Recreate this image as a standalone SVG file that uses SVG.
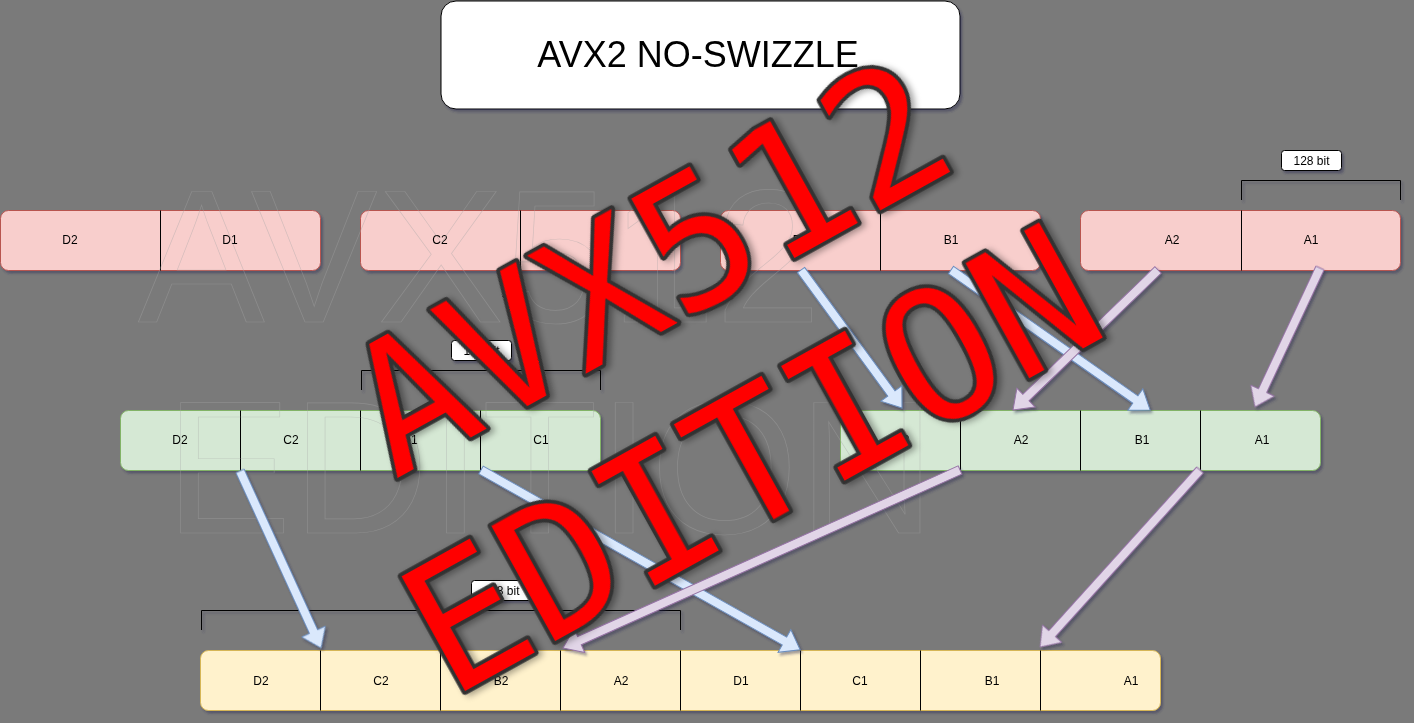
<svg xmlns="http://www.w3.org/2000/svg" width="1414" height="723" viewBox="0 0 1414 723">
<defs>
<style>
.lbl{font-family:"Liberation Sans",Arial,sans-serif;font-size:12px;fill:#000;text-anchor:middle}
.red{fill:#f8cecc;stroke:#b85450;stroke-width:1}
.grn{fill:#d5e8d4;stroke:#82b366;stroke-width:1}
.yel{fill:#fff2cc;stroke:#d6b656;stroke-width:1}
.div{stroke:#000;stroke-width:1}
.brk{fill:none;stroke:#000;stroke-width:1}
.tag{fill:#fff;stroke:#000;stroke-width:1}
.ab{fill:#dae8fc;stroke:#6c8ebf;stroke-width:1}
.al{fill:#e1d5e7;stroke:#9673a6;stroke-width:1}
.wm{font-family:"Liberation Sans",Arial,sans-serif;font-size:190px;fill:none;stroke:#a6a6a6;stroke-width:0.7;opacity:0.42}
.big{font-family:"DejaVu Sans Mono",monospace;font-size:180px;fill:#ff0000;stroke:#333;stroke-width:7.5;stroke-linejoin:round;paint-order:stroke;text-anchor:middle}
</style>
<filter id="sh" x="-5%" y="-5%" width="115%" height="130%">
<feDropShadow dx="2" dy="2.5" stdDeviation="1.2" flood-color="#2a2a55" flood-opacity="0.45"/>
</filter>
<filter id="tsh" x="-10%" y="-10%" width="125%" height="125%">
<feDropShadow dx="3" dy="3" stdDeviation="3" flood-color="#000" flood-opacity="0.35"/>
</filter>
</defs>
<rect x="0" y="0" width="1414" height="723" fill="#7a7a7a"/>

<g id="title" filter="url(#sh)">
<rect x="441" y="1" width="519" height="108" rx="15" fill="#fff" stroke="#000" stroke-width="1"/>
<text x="698" y="67" font-family="Liberation Sans,Arial,sans-serif" font-size="36" text-anchor="middle" fill="#000">AVX2 NO-SWIZZLE</text>
</g>

<g id="top-D" filter="url(#sh)">
<rect class="red" x="0.5" y="210.5" width="320" height="60" rx="8"/>
<line class="div" x1="160.5" y1="210.5" x2="160.5" y2="270.5"/>
<text class="lbl" x="70" y="244">D2</text>
<text class="lbl" x="230" y="244">D1</text>
</g>
<g id="top-C" filter="url(#sh)">
<rect class="red" x="360.5" y="210.5" width="320" height="60" rx="8"/>
<line class="div" x1="520.5" y1="210.5" x2="520.5" y2="270.5"/>
<text class="lbl" x="440" y="244">C2</text>
<text class="lbl" x="600" y="244">C1</text>
</g>
<g id="top-B" filter="url(#sh)">
<rect class="red" x="720.5" y="210.5" width="320" height="60" rx="8"/>
<line class="div" x1="880.5" y1="210.5" x2="880.5" y2="270.5"/>
<text class="lbl" x="800" y="244">B2</text>
<text class="lbl" x="951" y="244">B1</text>
</g>
<g id="top-A" filter="url(#sh)">
<rect class="red" x="1080.5" y="210.5" width="320" height="60" rx="8"/>
<line class="div" x1="1241.5" y1="210.5" x2="1241.5" y2="270.5"/>
<text class="lbl" x="1172" y="244">A2</text>
<text class="lbl" x="1311" y="244">A1</text>
</g>

<g id="bracket-top" filter="url(#sh)">
<polyline class="brk" points="1241.5,200 1241.5,180.5 1400.5,180.5 1400.5,200"/>
<rect class="tag" x="1281.5" y="150.5" width="60" height="20" rx="3"/>
<text class="lbl" x="1311.5" y="165">128 bit</text>
</g>

<g id="mid-DC" filter="url(#sh)">
<rect class="grn" x="120.5" y="410.5" width="480" height="60" rx="8"/>
<line class="div" x1="240.5" y1="410.5" x2="240.5" y2="470.5"/>
<line class="div" x1="360.5" y1="410.5" x2="360.5" y2="470.5"/>
<line class="div" x1="480.5" y1="410.5" x2="480.5" y2="470.5"/>
<text class="lbl" x="180" y="444">D2</text>
<text class="lbl" x="291" y="444">C2</text>
<text class="lbl" x="410" y="444">D1</text>
<text class="lbl" x="541" y="444">C1</text>
</g>
<g id="mid-BA" filter="url(#sh)">
<rect class="grn" x="840.5" y="410.5" width="480" height="60" rx="8"/>
<line class="div" x1="960.5" y1="410.5" x2="960.5" y2="470.5"/>
<line class="div" x1="1080.5" y1="410.5" x2="1080.5" y2="470.5"/>
<line class="div" x1="1200.5" y1="410.5" x2="1200.5" y2="470.5"/>
<text class="lbl" x="902" y="444">B2</text>
<text class="lbl" x="1021" y="444">A2</text>
<text class="lbl" x="1142" y="444">B1</text>
<text class="lbl" x="1262" y="444">A1</text>
</g>

<g id="bracket-mid" filter="url(#sh)">
<polyline class="brk" points="361.5,390 361.5,370.5 600.5,370.5 600.5,390"/>
<rect class="tag" x="451.5" y="340.5" width="60" height="20" rx="3"/>
<text class="lbl" x="481.5" y="355">128 bit</text>
</g>

<g id="bottom" filter="url(#sh)">
<rect class="yel" x="200.5" y="650.5" width="960" height="60" rx="8"/>
<line class="div" x1="320.5" y1="650.5" x2="320.5" y2="710.5"/>
<line class="div" x1="440.5" y1="650.5" x2="440.5" y2="710.5"/>
<line class="div" x1="560.5" y1="650.5" x2="560.5" y2="710.5"/>
<line class="div" x1="680.5" y1="650.5" x2="680.5" y2="710.5"/>
<line class="div" x1="800.5" y1="650.5" x2="800.5" y2="710.5"/>
<line class="div" x1="920.5" y1="650.5" x2="920.5" y2="710.5"/>
<line class="div" x1="1040.5" y1="650.5" x2="1040.5" y2="710.5"/>
<text class="lbl" x="261" y="685">D2</text>
<text class="lbl" x="381" y="685">C2</text>
<text class="lbl" x="501" y="685">B2</text>
<text class="lbl" x="621" y="685">A2</text>
<text class="lbl" x="741" y="685">D1</text>
<text class="lbl" x="860" y="685">C1</text>
<text class="lbl" x="992" y="685">B1</text>
<text class="lbl" x="1131" y="685">A1</text>
</g>

<g id="bracket-bottom" filter="url(#sh)">
<polyline class="brk" points="201.5,630 201.5,610.5 680.5,610.5 680.5,630"/>
<rect class="tag" x="471.5" y="580.5" width="60" height="20" rx="3"/>
<text class="lbl" x="501.5" y="595">128 bit</text>
</g>

<g id="watermark">
<text class="wm" x="138" y="322">AVX512</text>
<text class="wm" x="165" y="533">EDITION</text>
</g>

<g id="connectors" filter="url(#sh)">
<polygon class="ab" transform="translate(801,270) rotate(53.8)" points="0,-4.5 153,-4.5 153,-13 171,0 153,13 153,4.5 0,4.5"/>
<polygon class="ab" transform="translate(951,270) rotate(35.1)" points="0,-4.5 225.3,-4.5 225.3,-13 243.3,0 225.3,13 225.3,4.5 0,4.5"/>
<polygon class="ab" transform="translate(240,471) rotate(65.4)" points="0,-4.5 176.7,-4.5 176.7,-13 194.7,0 176.7,13 176.7,4.5 0,4.5"/>
<polygon class="ab" transform="translate(481,470) rotate(29.4)" points="0,-4.5 348.3,-4.5 348.3,-13 366.3,0 348.3,13 348.3,4.5 0,4.5"/>
<polygon class="al" transform="translate(1158,270) rotate(136)" points="0,-4.5 183.6,-4.5 183.6,-13 201.6,0 183.6,13 183.6,4.5 0,4.5"/>
<polygon class="al" transform="translate(1320,268) rotate(115.1)" points="0,-4.5 135.4,-4.5 135.4,-13 153.4,0 135.4,13 135.4,4.5 0,4.5"/>
<polygon class="al" transform="translate(960,470) rotate(155.85)" points="0,-4.5 417.1,-4.5 417.1,-13 435.1,0 417.1,13 417.1,4.5 0,4.5"/>
<polygon class="al" transform="translate(1200,470) rotate(132.1)" points="0,-4.5 220.6,-4.5 220.6,-13 238.6,0 220.6,13 220.6,4.5 0,4.5"/>
</g>

<g id="stamp" filter="url(#tsh)" transform="translate(679,322) rotate(-29)">
<text class="big" x="0" y="0">AVX512</text>
<text class="big" x="-4" y="219">EDITION</text>
</g>
</svg>
